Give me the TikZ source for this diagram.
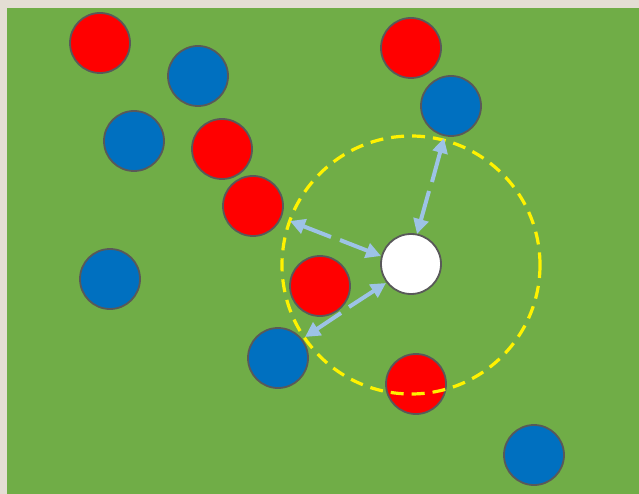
\documentclass[tikz,border=0pt]{standalone}
\usetikzlibrary{arrows.meta}
\definecolor{bgbeige}{RGB}{228,222,212}
\definecolor{field}{RGB}{112,173,71}
\definecolor{pred}{RGB}{255,0,0}
\definecolor{pblue}{RGB}{0,112,192}
\definecolor{edge}{RGB}{89,89,89}
\definecolor{arrowc}{RGB}{157,195,230}
\begin{document}
\begin{tikzpicture}[x=1pt,y=-1pt,
  player/.style={circle,draw=edge,line width=1.8pt,minimum size=60pt,inner sep=0pt},
  redp/.style={player,fill=pred},
  bluep/.style={player,fill=pblue},
  ball/.style={player,fill=white},
  arr/.style={draw=arrowc,line width=4pt,-{Triangle[length=15pt,width=15pt]}},
  zone/.style={draw=yellow,line width=3.2pt,dash pattern=on 13pt off 8pt}
]
\fill[bgbeige] (0,0) rectangle (639,494);
\fill[field] (7,8) rectangle (639,494);
\useasboundingbox (0,0) rectangle (639,494);

\node[redp] (r1) at (100,43) {};
\node[bluep] (b1) at (198,76) {};
\node[bluep] (b2) at (134,141) {};
\node[redp] (r2) at (222,149) {};
\node[redp] (r3) at (253,206) {};
\node[bluep] (b3) at (110,279) {};
\node[redp] (r4) at (320,286) {};
\node[bluep] (b4) at (278,358) {};
\node[redp] (r5) at (411,48) {};
\node[bluep] (b5) at (451,106) {};
\node[ball] (w) at (411,264) {};
\node[bluep] (b6) at (534,455) {};
\node[redp] (r6) at (416,384) {};

\draw[zone] (411,265) circle (129);

\coordinate (a1far) at (290,221);
\coordinate (a1m1) at (331,237);
\coordinate (a1m2) at (340,240);
\coordinate (a1near) at (381,256);
\draw[arr] (a1m1) -- (a1far);
\draw[arr] (a1m2) -- (a1near);

\coordinate (a2far) at (444,138);
\coordinate (a2m1) at (432,182);
\coordinate (a2m2) at (429,191);
\coordinate (a2near) at (417,234);
\draw[arr] (a2m1) -- (a2far);
\draw[arr] (a2m2) -- (a2near);

\coordinate (a3near) at (386,283);
\coordinate (a3m1) at (349,307);
\coordinate (a3m2) at (341,313);
\coordinate (a3far) at (305,337);
\draw[arr] (a3m1) -- (a3near);
\draw[arr] (a3m2) -- (a3far);
\end{tikzpicture}
\end{document}
